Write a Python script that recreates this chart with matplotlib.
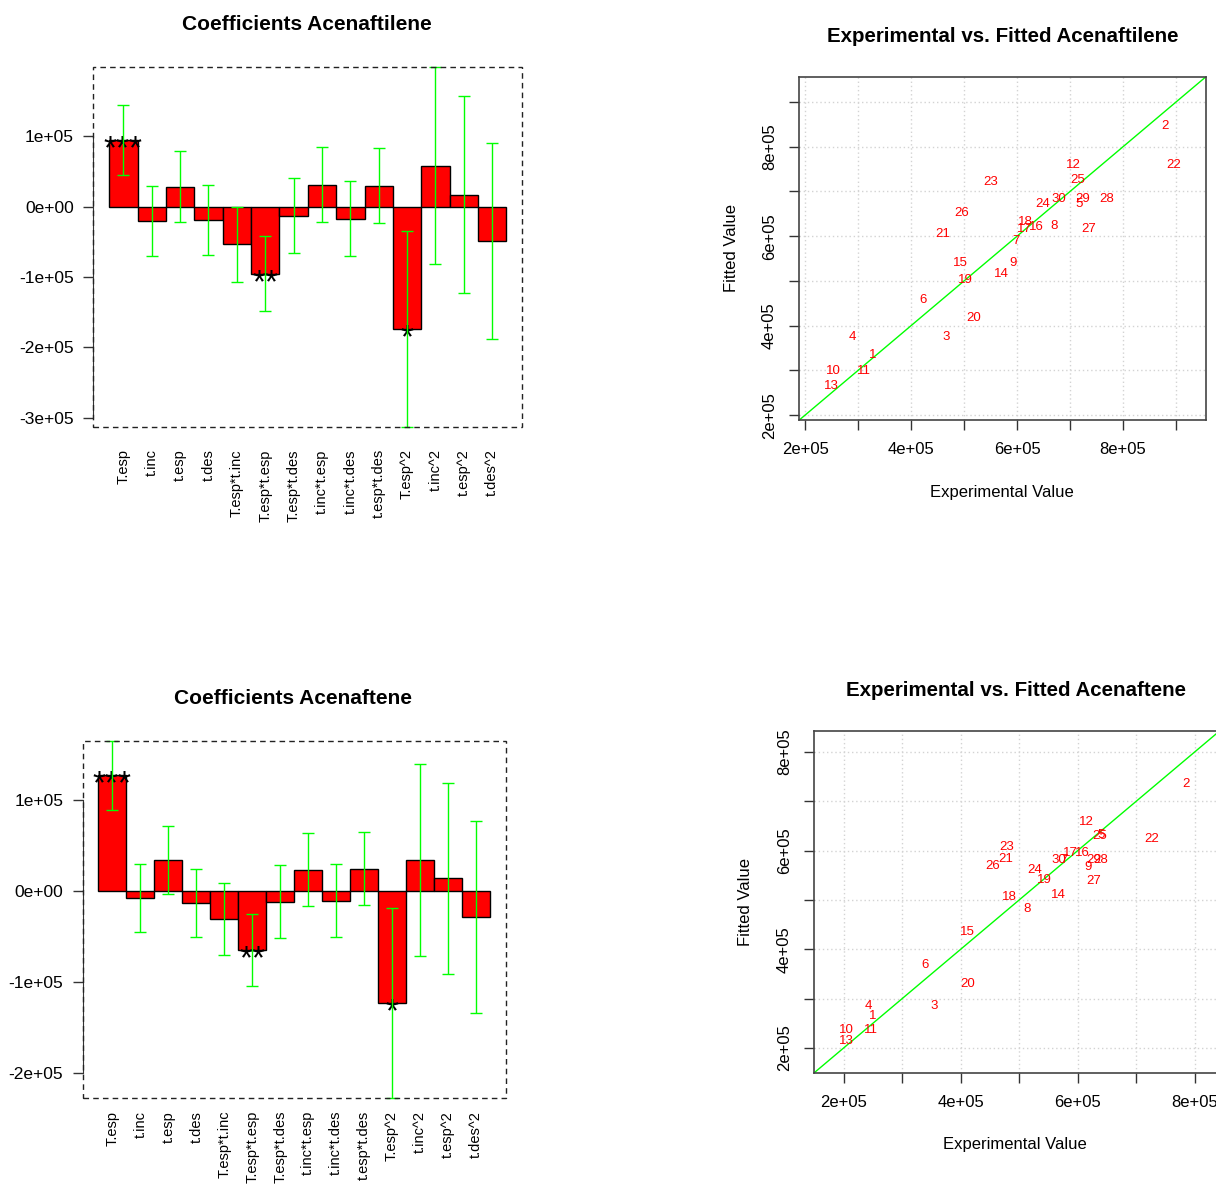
import numpy as np
import matplotlib
matplotlib.use('Agg')
import matplotlib.pyplot as plt
from matplotlib.patches import Rectangle

plt.rcParams['font.family'] = ['Liberation Sans', 'DejaVu Sans']

# ---- data ----
terms = ['T.esp', 't.inc', 't.esp', 't.des', 'T.esp*t.inc', 'T.esp*t.esp', 'T.esp*t.des',
         't.inc*t.esp', 't.inc*t.des', 't.esp*t.des', 'T.esp^2', 't.inc^2', 't.esp^2', 't.des^2']
stars = ['***', '', '', '', '', '**', '', '', '', '', '*', '', '', '']

coef_ftil = [95000, -20800, 28100, -19000, -53400, -95600, -12800, 31100, -17400, 29500,
             -173900, 58300, 17300, -48700]
err_ftil = [50200, 50000, 50500, 50000, 53300, 53300, 53100, 53300, 53300, 53300,
            139300, 140300, 140300, 139100]

coef_ften = [127000, -8400, 33700, -13300, -31300, -65100, -12300, 23000, -10900, 24200,
             -123900, 33500, 13500, -28500]
err_ften = [37900, 37300, 37300, 37300, 39500, 39700, 40200, 40200, 40200, 40200,
            104400, 105500, 105300, 105500]

bar_yticks = [1e5, 0, -1e5, -2e5, -3e5]
bar_ylabels = ['1e+05', '0e+00', '-1e+05', '-2e+05', '-3e+05']

ids = list(range(1, 31))
exp_ftil = [328000, 880000, 467000, 290000, 717000, 423000, 598000, 669000, 592000, 254000,
            311000, 707000, 250000, 570000, 493000, 636000, 614000, 616000, 502000, 519000,
            460000, 896000, 550000, 648000, 714000, 496000, 735000, 770000, 724000, 679000]
fit_ftil = [334000, 846000, 374000, 374000, 672000, 458000, 589000, 622000, 540000, 298000,
            298000, 759000, 265000, 516000, 540000, 620000, 617000, 632000, 501000, 416000,
            605000, 759000, 720000, 673000, 726000, 652000, 615000, 682000, 682000, 682000]

exp_ften = [250000, 785000, 354000, 243000, 640000, 339000, 576000, 513000, 617000, 205000,
            246000, 615000, 205000, 567000, 412000, 608000, 587000, 483000, 543000, 412000,
            477000, 726000, 479000, 526000, 638000, 455000, 627000, 640000, 627000, 567000]
fit_ften = [265000, 736000, 285000, 285000, 631000, 368000, 582000, 482000, 567000, 237000,
            237000, 658000, 214000, 510000, 435000, 596000, 596000, 506000, 541000, 330000,
            584000, 624000, 607000, 560000, 629000, 568000, 539000, 582000, 582000, 582000]

sc_ticks = [2e5, 3e5, 4e5, 5e5, 6e5, 7e5, 8e5, 9e5]
sc_labels = ['2e+05', '', '4e+05', '', '6e+05', '', '8e+05', '']

W, H = 1216, 1191
fig = plt.figure(figsize=(W/100, H/100), dpi=100)

def px(l, t, r, b):
    return [l/W, 1-b/H, (r-l)/W, (b-t)/H]

def ftext(x, y, s, **kw):
    fig.text(x/W, 1-y/H, s, ha='center', va='center', **kw)

def coef_plot(rect, coef, err, title, title_xy, lab_pad):
    ax = fig.add_axes(rect)
    coef = np.array(coef); err = np.array(err)
    x = np.arange(len(terms)) + 0.5
    ax.bar(x, coef, width=1, color='red', edgecolor='black', linewidth=1, zorder=2)
    ax.errorbar(x, coef, yerr=err, fmt='none', ecolor='#00FF00', elinewidth=1,
                capsize=4.3, capthick=1, zorder=3, clip_on=False)
    # significance stars, under the error bars
    for xi, c, s in zip(x, coef, stars):
        if s:
            ax.annotate(s, (xi, c), xytext=(0, -7), textcoords='offset points',
                        ha='center', va='center', fontsize=24, zorder=2.5)
    lo, hi = (coef - err).min(), (coef + err).max()
    vis = [(t, l) for t, l in zip(bar_yticks, bar_ylabels) if lo <= t <= hi]
    ax.set_xticks(x)
    ax.set_xticklabels(terms, rotation=90, fontsize=10.5, va='top')
    ax.tick_params(axis='x', length=0, pad=lab_pad)
    ax.set_yticks([t for t, l in vis])
    ax.set_yticklabels([l for t, l in vis], fontsize=12.5)
    ax.tick_params(axis='y', length=7, width=1, color='#333333', pad=7)
    ax.set_xlim(-0.56, len(terms) + 0.56)
    ax.set_ylim(lo, hi)
    for side in ['top', 'right', 'bottom']:
        ax.spines[side].set_visible(False)
    ax.spines['left'].set_bounds(vis[-1][0], vis[0][0])
    ax.spines['left'].set_color('#333333')
    ax.add_patch(Rectangle((0, 0), 1, 1, transform=ax.transAxes, fill=False,
                           edgecolor='#222222', linewidth=1, linestyle=(0, (4, 3)),
                           clip_on=False, zorder=5))
    ftext(*title_xy, title, fontsize=15, fontweight='bold')
    return ax

def fit_plot(rect, ex, fi, lims, title, title_xy, xlab_xy, ylab_xy):
    ax = fig.add_axes(rect)
    ax.set_xticks(sc_ticks); ax.set_xticklabels(sc_labels, fontsize=12)
    ax.set_yticks(sc_ticks); ax.set_yticklabels(sc_labels, fontsize=12)
    ax.set_xlim(lims); ax.set_ylim(lims)
    plt.setp(ax.get_yticklabels(), rotation=90, va='center')
    ax.tick_params(length=7, width=1, color='#333333', pad=9)
    ax.grid(True, color='#D3D3D3', linestyle=(0, (1, 2)), linewidth=1)
    ax.set_axisbelow(True)
    for s in ax.spines.values():
        s.set_color('#444444'); s.set_linewidth(1.2)
    ax.plot(lims, lims, color='#00FF00', linewidth=1)
    for i, xv, yv in zip(ids, ex, fi):
        ax.text(xv, yv, str(i), color='red', fontsize=9.5, ha='center', va='center')
    ftext(*title_xy, title, fontsize=14.8, fontweight='bold')
    ftext(*xlab_xy, 'Experimental Value', fontsize=12)
    ftext(*ylab_xy, 'Fitted Value', fontsize=12, rotation=90)
    return ax

coef_plot(px(93.3, 67, 522.3, 427), coef_ftil, err_ftil, 'Coefficients Acenaftilene',
          (307, 24), 16)
coef_plot(px(82.7, 740.7, 505.7, 1098.3), coef_ften, err_ften, 'Coefficients Acenaftene',
          (293, 698), 9)

fit_plot(px(799.3, 76.7, 1206, 420), exp_ftil, fit_ftil, (189000, 956500),
         'Experimental vs. Fitted Acenaftilene', (1003, 37), (1002, 492), (731, 248))
fit_plot(px(814.3, 730.7, 1219.9, 1072.7), exp_ften, fit_ften, (150000, 843000),
         'Experimental vs. Fitted Acenaftene', (1016, 691), (1015, 1144), (745, 902))

fig.savefig('out.png', dpi=100, facecolor='white')
